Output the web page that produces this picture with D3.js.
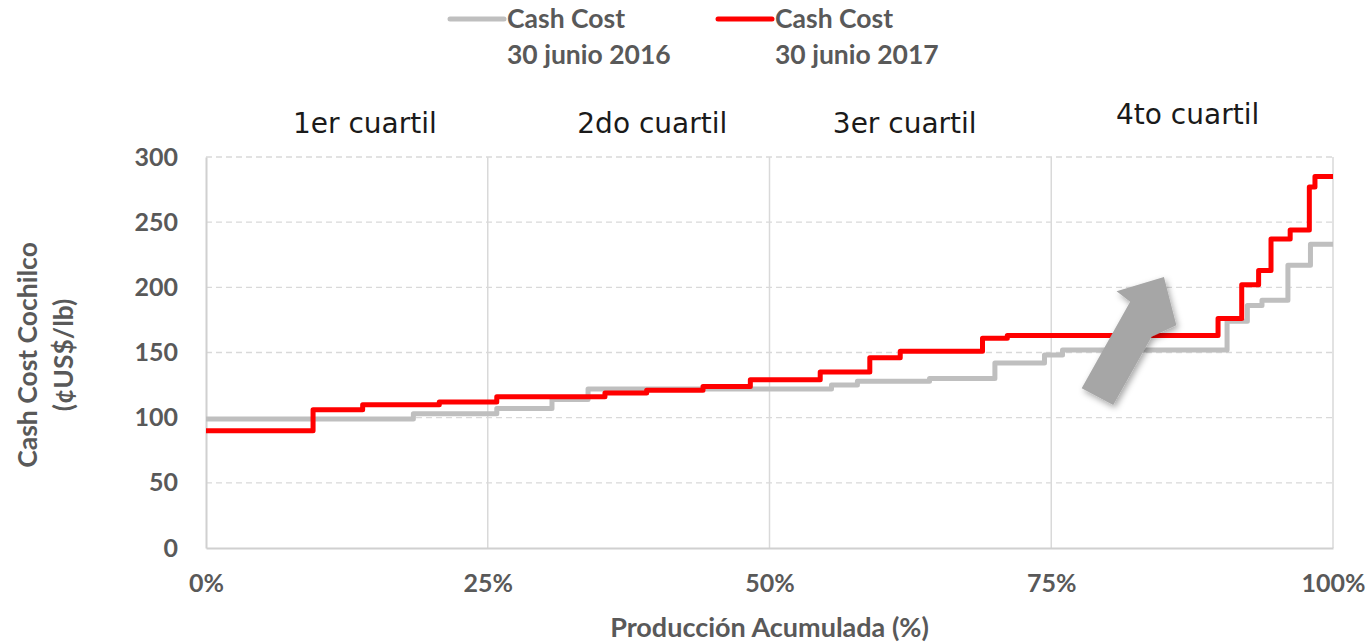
<!DOCTYPE html>
<html>
<head>
<meta charset="utf-8">
<script src="https://cdn.jsdelivr.net/npm/d3@7"></script>
<style>
  body { margin: 0; background: #fff; }
  svg { display: block; font-family: Lato, 'Open Sans', sans-serif; }
</style>
</head>
<body>
<svg></svg>
<script>
// produccion acumulada (%) where each step starts, and cash cost (cUS$/lb)
let x2016 = [0, 18.4, 25.8, 30.7, 33.9, 55.5, 57.8, 64.2, 70, 74.4, 76, 90.6, 92.4, 93.7, 96, 98, 100]
let cost2016 = [99, 103, 107, 114, 122, 125, 128, 130, 142, 148, 152, 174, 186, 190, 217, 233, 233]

let x2017 = [0, 9.5, 13.9, 20.7, 25.8, 35.4, 39.1, 44.1, 48.3, 54.5, 58.9, 61.6, 68.9, 71.1, 89.8, 91.9, 93.4, 94.5, 96.2, 97.9, 98.4, 100]
let cost2017 = [90, 106, 110, 112, 116, 119, 121, 124, 129, 135, 146, 151, 161, 163, 176, 202, 213, 237, 244, 277, 285, 285]

let seriesNames = [['Cash Cost', '30 junio 2016'], ['Cash Cost', '30 junio 2017']]
let seriesColors = ['#bfbfbf', '#ff0000']

let quartiles = ['1er cuartil', '2do cuartil', '3er cuartil', '4to cuartil']
let quartileCenters = [14.1, 39.6, 62, 87.1]

let yTicks = [0, 50, 100, 150, 200, 250, 300]
let xTicks = [0, 25, 50, 75, 100]

// arrow outline in data units (x %, y cUS$/lb)
let arrowPts = [[85.0, 208], [80.8, 197], [82.0, 189], [77.7, 122.5], [80.5, 109.7], [83.9, 162], [86.1, 171]]

let width = 1372
let height = 643
let plotLeft = 206
let plotRight = 1333
let plotTop = 157
let plotBottom = 548
let textColor = '#595959'

let svg = d3.select('svg')
svg.attr('width', width).attr('height', height)

let xScale = d3.scaleLinear().domain([0, 100]).range([plotLeft, plotRight])
let yScale = d3.scaleLinear().domain([0, 300]).range([plotBottom, plotTop])

// horizontal dashed grid
svg.append('g')
    .selectAll('line')
    .data(yTicks.filter(d => d > 0))
    .join('line')
    .attr('x1', plotLeft).attr('x2', plotRight)
    .attr('y1', d => yScale(d)).attr('y2', d => yScale(d))
    .attr('stroke', '#d9d9d9')
    .attr('stroke-width', 1.3)
    .attr('stroke-dasharray', '6,4')

// vertical solid grid
svg.append('g')
    .selectAll('line')
    .data(xTicks.filter(d => d > 0))
    .join('line')
    .attr('x1', d => xScale(d)).attr('x2', d => xScale(d))
    .attr('y1', plotTop).attr('y2', plotBottom)
    .attr('stroke', '#d9d9d9')
    .attr('stroke-width', 1.5)

// axes
let yAxis = d3.axisLeft(yScale).tickValues(yTicks).tickSize(0).tickPadding(28)
svg.append('g')
    .attr('transform', 'translate(' + plotLeft + ',0)')
    .call(yAxis)
    .call(g => g.select('.domain').attr('stroke', '#d0d0d0').attr('stroke-width', 2))
    .call(g => g.selectAll('text').attr('fill', textColor).attr('font-size', 25).attr('font-weight', 'bold').attr('font-family', 'Lato'))

let xAxis = d3.axisBottom(xScale).tickValues(xTicks).tickFormat(d => d + '%').tickSize(0).tickPadding(26)
svg.append('g')
    .attr('transform', 'translate(0,' + plotBottom + ')')
    .call(xAxis)
    .call(g => g.select('.domain').attr('stroke', '#d0d0d0').attr('stroke-width', 2))
    .call(g => g.selectAll('text').attr('fill', textColor).attr('font-size', 25).attr('font-weight', 'bold').attr('font-family', 'Lato'))

// step lines
let stepLine = d3.line()
    .x(d => xScale(d[0]))
    .y(d => yScale(d[1]))
    .curve(d3.curveStepAfter)

let series = [d3.zip(x2016, cost2016), d3.zip(x2017, cost2017)]

svg.append('g')
    .selectAll('path')
    .data(series)
    .join('path')
    .attr('d', stepLine)
    .attr('fill', 'none')
    .attr('stroke', (d, i) => seriesColors[i])
    .attr('stroke-width', 5)
    .attr('stroke-linejoin', 'round')

// arrow with soft shadow
let defs = svg.append('defs')
let filter = defs.append('filter').attr('id', 'shadow').attr('x', '-30%').attr('y', '-30%').attr('width', '160%').attr('height', '160%')
filter.append('feDropShadow').attr('dx', 2).attr('dy', 3).attr('stdDeviation', 3).attr('flood-color', '#000').attr('flood-opacity', 0.35)

svg.append('path')
    .attr('d', d3.line().x(d => xScale(d[0])).y(d => yScale(d[1]))(arrowPts) + 'Z')
    .attr('fill', '#a6a6a6')
    .attr('filter', 'url(#shadow)')

// quartile labels
svg.append('g')
    .selectAll('text')
    .data(quartiles)
    .join('text')
    .attr('x', (d, i) => xScale(quartileCenters[i]))
    .attr('y', (d, i) => i == 3 ? 124 : 133)
    .attr('text-anchor', 'middle')
    .attr('font-family', 'DejaVu Sans')
    .attr('font-size', 28)
    .attr('fill', '#1a1a1a')
    .text(d => d)

// axis titles
svg.append('text')
    .attr('x', (plotLeft + plotRight) / 2)
    .attr('y', 637)
    .attr('text-anchor', 'middle')
    .attr('font-size', 27)
    .attr('font-weight', 'bold')
    .attr('fill', textColor)
    .text('Producción Acumulada (%)')

let yTitle = svg.append('text')
    .attr('transform', 'translate(37,355) rotate(-90)')
    .attr('text-anchor', 'middle')
    .attr('font-size', 26.5)
    .attr('font-weight', 'bold')
    .attr('fill', textColor)
yTitle.append('tspan').attr('x', 0).attr('y', 0).text('Cash Cost Cochilco')
yTitle.append('tspan').attr('x', 0).attr('y', 36).text('(¢US$/lb)')

// legend
let legendX = [448, 716]
let legend = svg.append('g')
    .selectAll('g')
    .data(seriesNames)
    .join('g')
    .attr('transform', (d, i) => 'translate(' + legendX[i] + ',0)')

legend.append('line')
    .attr('x1', 2).attr('x2', 56)
    .attr('y1', 19).attr('y2', 19)
    .attr('stroke', (d, i) => seriesColors[i])
    .attr('stroke-width', 5)
    .attr('stroke-linecap', 'round')

legend.append('text')
    .attr('x', 59)
    .attr('y', 28)
    .attr('font-size', 26.5)
    .attr('font-weight', 'bold')
    .attr('fill', textColor)
    .text(d => d[0])

legend.append('text')
    .attr('x', 59)
    .attr('y', 64)
    .attr('font-size', 26.5)
    .attr('font-weight', 'bold')
    .attr('fill', textColor)
    .text(d => d[1])
</script>
</body>
</html>
